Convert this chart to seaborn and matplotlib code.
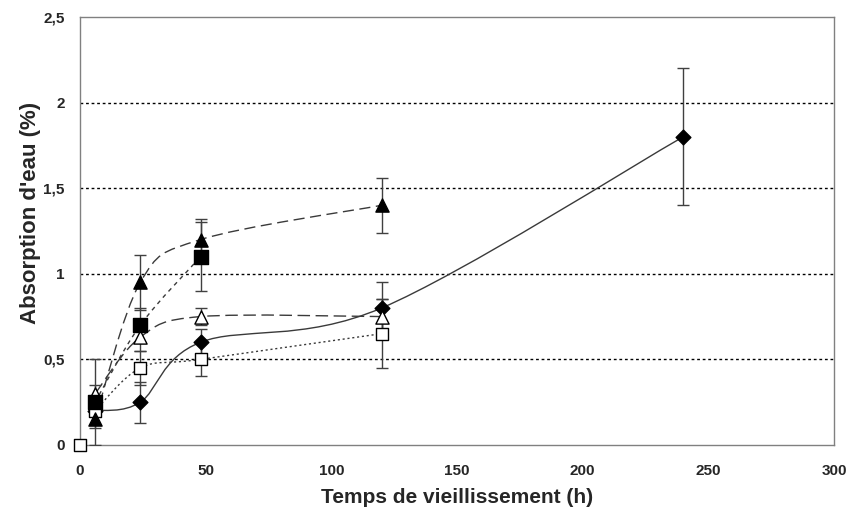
"""
Absorption d'eau en fonction du temps de vieillissement
"""

import numpy as np
import matplotlib
matplotlib.use('Agg')
import matplotlib.pyplot as plt
from matplotlib.path import Path
from matplotlib.patches import PathPatch
from matplotlib.ticker import FuncFormatter
import seaborn as sns

# données
temps_losange = [6, 24, 48, 120, 240]
abs_losange = [0.20, 0.25, 0.60, 0.80, 1.80]
err_losange = [0.03, 0.12, 0.08, 0.15, 0.40]

temps_carre_plein = [6, 24, 48]
abs_carre_plein = [0.25, 0.70, 1.10]
err_carre_plein = [0.25, 0.10, 0.20]

temps_tri_plein = [6, 24, 48, 120]
abs_tri_plein = [0.15, 0.95, 1.20, 1.40]
err_tri_plein = [0.05, 0.16, 0.12, 0.16]

temps_tri_vide = [6, 24, 48, 120]
abs_tri_vide = [0.30, 0.63, 0.75, 0.75]
err_tri_vide = [0.05, 0.08, 0.05, 0.10]

temps_carre_vide = [6, 24, 48, 120]
abs_carre_vide = [0.20, 0.45, 0.50, 0.65]
err_carre_vide = [0.03, 0.10, 0.10, 0.20]

temps_origine = [0]
abs_origine = [0.0]

x_ticks = [0, 50, 100, 150, 200, 250, 300]
y_ticks = [0, 0.5, 1, 1.5, 2, 2.5]

LINE_COLOR = '#3a3a3a'


def courbe_lissee(ax, x, y, **kw):
    """Trace une courbe lissée (type Excel) passant par les points"""
    p = np.column_stack([x, y]).astype(float)
    verts = [p[0]]
    codes = [Path.MOVETO]
    n = len(p)
    for i in range(n - 1):
        p0 = p[i - 1] if i > 0 else p[i]
        p3 = p[i + 2] if i + 2 < n else p[i + 1]
        c1 = p[i] + (p[i + 1] - p0) / 6.0
        c2 = p[i + 1] - (p3 - p[i]) / 6.0
        verts += [c1, c2, p[i + 1]]
        codes += [Path.CURVE4] * 3
    patch = PathPatch(Path(verts, codes), fill=False, **kw)
    ax.add_patch(patch)


sns.set_style('white')
plt.rcParams['font.family'] = ['Liberation Sans', 'DejaVu Sans']

fig = plt.figure(figsize=(8.51, 5.15), dpi=100)
ax = fig.add_axes([0.094, 0.136, 0.886, 0.831])

# grille horizontale pointillée
for yv in y_ticks[1:-1]:
    ax.axhline(yv, color='black', lw=1, ls=(0, (2, 2)), zorder=1)

series = [
    (temps_losange, abs_losange, err_losange, 'D', 'black', 7.5, '-'),
    (temps_carre_vide, abs_carre_vide, err_carre_vide, 's', 'white', 9, (0, (1.5, 2))),
    (temps_tri_vide, abs_tri_vide, err_tri_vide, '^', 'white', 9.5, (0, (9, 4))),
    (temps_carre_plein, abs_carre_plein, err_carre_plein, 's', 'black', 10.5, (0, (3, 3))),
    (temps_tri_plein, abs_tri_plein, err_tri_plein, '^', 'black', 9.5, (0, (8, 4))),
]

for t, a, e, m, fc, ms, ls in series:
    courbe_lissee(ax, t, a, edgecolor=LINE_COLOR, lw=1, linestyle=ls, zorder=2)
    ax.errorbar(t, a, yerr=e, fmt='none', ecolor='#404040', elinewidth=1,
                capsize=4, capthick=1, zorder=3)
    sns.scatterplot(x=t, y=a, ax=ax, marker=m, s=ms ** 2, color=fc,
                    edgecolor='black', linewidth=1, zorder=4, clip_on=False)

sns.scatterplot(x=temps_origine, y=abs_origine, ax=ax, marker='s', s=9 ** 2,
                color='white', edgecolor='black', linewidth=1, zorder=5, clip_on=False)

ax.set_xlim(0, 300)
ax.set_ylim(0, 2.5)
ax.set_xticks(x_ticks)
ax.set_yticks(y_ticks)
ax.yaxis.set_major_formatter(FuncFormatter(lambda v, p: f'{v:g}'.replace('.', ',')))

for s in ax.spines.values():
    s.set_color('#808080')
    s.set_linewidth(1)

ax.tick_params(axis='both', direction='out', length=5, width=1, color='#808080',
               labelsize=11, pad=9)
ax.tick_params(axis='y', pad=6)
for lab in ax.get_xticklabels() + ax.get_yticklabels():
    lab.set_fontweight('bold')

ax.set_xlabel('Temps de vieillissement (h)', fontsize=15, fontweight='bold')
ax.set_ylabel("Absorption d'eau (%)", fontsize=16, fontweight='bold')
ax.xaxis.set_label_coords(0.5, -0.10)
ax.yaxis.set_label_coords(-0.052, 0.542)

fig.savefig('out.png', dpi=100)
